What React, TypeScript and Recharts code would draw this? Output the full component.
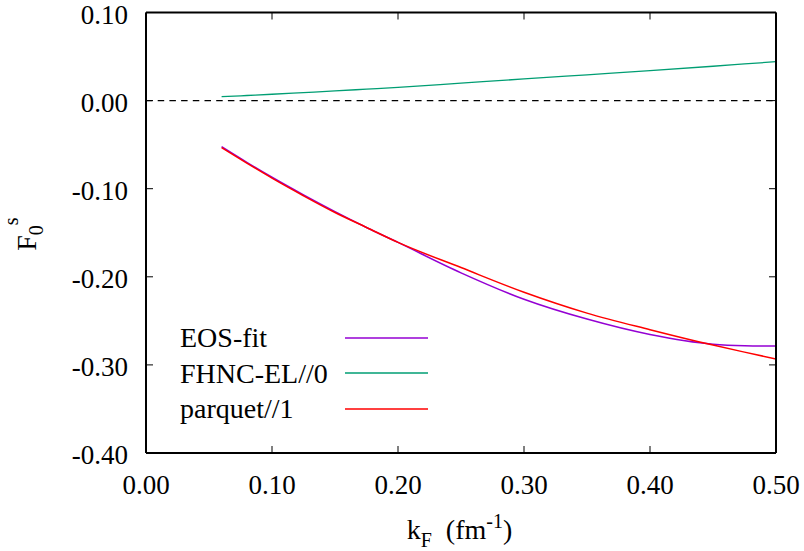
import { LineChart, Line, XAxis, YAxis, ReferenceLine, Legend, Label } from 'recharts'

const kF = [0.06, 0.08, 0.1, 0.125, 0.15, 0.175, 0.2, 0.25, 0.3, 0.35, 0.4, 0.45, 0.475, 0.5]
const eosFit = [-0.0523, -0.07, -0.087, -0.107, -0.126, -0.144, -0.161, -0.1955, -0.2255, -0.248, -0.2655, -0.2765, -0.2782, -0.2786]
const fhncEl = [0.0044, 0.0058, 0.0072, 0.0091, 0.011, 0.013, 0.015, 0.0198, 0.0246, 0.0293, 0.034, 0.039, 0.0416, 0.0442]
const parquet = [-0.0535, -0.071, -0.088, -0.108, -0.127, -0.144, -0.161, -0.1895, -0.2175, -0.2412, -0.26, -0.2775, -0.2855, -0.2933]

const xTicks = [0, 0.1, 0.2, 0.3, 0.4, 0.5]
const yTicks = [-0.4, -0.3, -0.2, -0.1, 0, 0.1]

const series = [
  { key: 'eos', name: 'EOS-fit', color: '#9400D3', width: 1.5 },
  { key: 'fhnc', name: 'FHNC-EL//0', color: '#009E73', width: 1.3 },
  { key: 'parquet', name: 'parquet//1', color: '#FF0000', width: 1.5 },
]

const data = kF.map((k, i) => ({ k, eos: eosFit[i], fhnc: fhncEl[i], parquet: parquet[i] }))

const FONT = 'Liberation Serif, Times New Roman, Times, serif'
const fmt = (v: number) => (Math.abs(v) < 1e-9 ? '0.00' : v.toFixed(2))

const BottomTick = ({ x, y, payload }: any) => (
  <g>
    <line x1={x} x2={x} y1={y - 22} y2={y - 29} stroke="#000" strokeWidth={1} />
    <text x={x} y={y} dy="0.71em" textAnchor="middle" fontSize={27} fontFamily={FONT} fill="#000">
      {fmt(payload.value)}
    </text>
  </g>
)

const LeftTick = ({ x, y, payload }: any) => (
  <g>
    <line x1={x + 18} x2={x + 25} y1={y} y2={y} stroke="#000" strokeWidth={1} />
    <text x={x} y={y} dy="0.42em" textAnchor="end" fontSize={27} fontFamily={FONT} fill="#000">
      {fmt(payload.value)}
    </text>
  </g>
)

const TopTick = ({ x, y }: any) => <line x1={x} x2={x} y1={y} y2={y + 7} stroke="#000" strokeWidth={1} />
const RightTick = ({ x, y }: any) => <line x1={x} x2={x - 7} y1={y} y2={y} stroke="#000" strokeWidth={1} />

const XTitle = () => (
  <text x={406.7} y={539} fontSize={28} fontFamily={FONT} fill="#000">
    k
    <tspan dy={7.7} fontSize={20}>F</tspan>
    <tspan dy={-7.7} fontSize={28}>{'\u00a0\u00a0(fm'}</tspan>
    <tspan dy={-11} fontSize={20}>-1</tspan>
    <tspan dy={11} fontSize={28}>)</tspan>
  </text>
)

const YTitle = () => (
  <text x={35.7} y={250.7} transform="rotate(-90 35.7 250.7)" fontSize={28} fontFamily={FONT} fill="#000">
    F
    <tspan dy={7.6} fontSize={20}>0</tspan>
    <tspan dy={-25.6} fontSize={20}>s</tspan>
  </text>
)

const LegendBox = () => (
  <div style={{ fontFamily: FONT, fontSize: 28, color: '#000' }}>
    {series.map((s) => (
      <div key={s.key} style={{ position: 'relative', height: 35.5, lineHeight: '35.5px', whiteSpace: 'nowrap' }}>
        <span>{s.name}</span>
        <svg width={83} height={6} style={{ position: 'absolute', left: 165, top: 14.75 }}>
          <line x1={0} x2={83} y1={3} y2={3} stroke={s.color} strokeWidth={s.width} />
        </svg>
      </div>
    ))}
  </div>
)

export default function App() {
  return (
    <div style={{ position: 'absolute', left: 0, top: 0, width: 804, height: 551, background: '#fff', fontFamily: FONT }}>
      <LineChart width={804} height={551} data={data} margin={{ top: 11.5, right: 27, left: 0, bottom: 0 }}>
        <XAxis
          dataKey="k"
          type="number"
          domain={[0, 0.5]}
          allowDataOverflow
          ticks={xTicks}
          height={98}
          tickSize={0}
          tickMargin={22}
          tick={<BottomTick />}
          axisLine={{ stroke: '#000', strokeWidth: 2 }}
          interval={0}
        >
          <Label content={<XTitle />} />
        </XAxis>
        <XAxis
          xAxisId="top"
          dataKey="k"
          orientation="top"
          type="number"
          domain={[0, 0.5]}
          allowDataOverflow
          ticks={xTicks}
          height={1}
          tickSize={0}
          tickMargin={0}
          tick={<TopTick />}
          axisLine={{ stroke: '#000', strokeWidth: 2 }}
          interval={0}
        />
        <YAxis
          type="number"
          domain={[-0.4, 0.1]}
          allowDataOverflow
          ticks={yTicks}
          width={146}
          tickSize={0}
          tickMargin={18}
          tick={<LeftTick />}
          axisLine={{ stroke: '#000', strokeWidth: 2 }}
          interval={0}
        >
          <Label content={<YTitle />} />
        </YAxis>
        <YAxis
          yAxisId="right"
          dataKey="eos"
          orientation="right"
          type="number"
          domain={[-0.4, 0.1]}
          allowDataOverflow
          ticks={yTicks}
          width={1}
          tickSize={0}
          tickMargin={0}
          tick={<RightTick />}
          axisLine={{ stroke: '#000', strokeWidth: 2 }}
          interval={0}
        />
        <ReferenceLine y={0} stroke="#000" strokeWidth={1.2} strokeDasharray="6.5 5.2" />
        {series.map((s) => (
          <Line
            key={s.key}
            dataKey={s.key}
            name={s.name}
            type="monotone"
            stroke={s.color}
            strokeWidth={s.width}
            dot={false}
            isAnimationActive={false}
          />
        ))}
        <Legend
          layout="vertical"
          align="center"
          verticalAlign="middle"
          content={<LegendBox />}
          wrapperStyle={{ left: 180, top: 320, width: 260, height: 107 }}
        />
      </LineChart>
    </div>
  )
}
